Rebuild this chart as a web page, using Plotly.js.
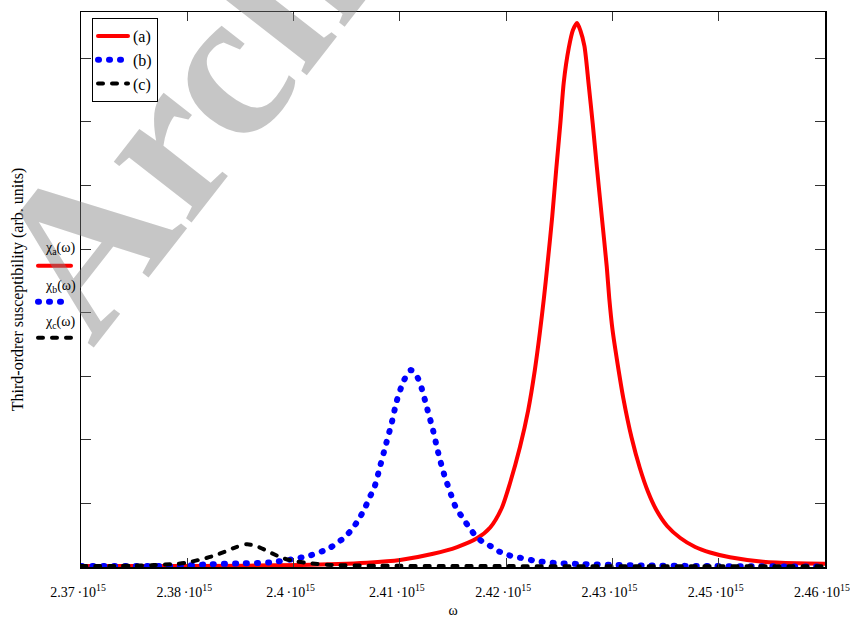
<!DOCTYPE html>
<html>
<head>
<meta charset="utf-8">
<script src="https://cdn.plot.ly/plotly-3.0.1.min.js"></script>
<style>
  html, body { margin: 0; padding: 0; background: #fff; }
  #chart { width: 850px; height: 621px; }
  .js-line { stroke-linecap: round; }
  .shapelayer path { stroke-linecap: round; }
</style>
</head>
<body>
<div id="chart"></div>
<script>
// ω values are in units of 10^15
const omegaA = [2.3700, 2.3844, 2.3965, 2.4046, 2.4086, 2.4126, 2.4155, 2.4179, 2.4195, 2.4209,
  2.4219, 2.4231, 2.4241, 2.4249, 2.4255, 2.4260, 2.4264, 2.4270, 2.4275, 2.4280,
  2.4284, 2.4290, 2.4295, 2.4300, 2.4304, 2.4309, 2.4314, 2.4319, 2.4324, 2.4330,
  2.4336, 2.4339, 2.4343, 2.4349, 2.4356, 2.4366, 2.4376, 2.4386, 2.4396, 2.4409,
  2.4425, 2.4443, 2.4461, 2.4485, 2.4525, 2.4566, 2.4600];
const chiA = [0.016, 0.016, 0.031, 0.068, 0.11, 0.208, 0.314, 0.451, 0.621, 0.928,
  1.321, 1.887, 2.469, 3.097, 3.679, 4.230, 4.722, 5.508, 6.274, 6.997,
  7.626, 8.160, 8.443, 8.558, 8.443, 8.192, 7.605, 6.976, 6.294, 5.508,
  4.722, 4.230, 3.726, 3.203, 2.657, 2.036, 1.557, 1.179, 0.896, 0.645,
  0.456, 0.314, 0.228, 0.153, 0.083, 0.058, 0.052];

const omegaB = [2.3700, 2.3765, 2.3817, 2.3854, 2.3893, 2.3929, 2.3955, 2.3978, 2.4000, 2.4018,
  2.4027, 2.4036, 2.4043, 2.4049, 2.4055, 2.4062, 2.4069, 2.4076, 2.4082, 2.4091,
  2.4099, 2.4107, 2.4112, 2.4119, 2.4126, 2.4132, 2.4139, 2.4148, 2.4153, 2.4161,
  2.4170, 2.4178, 2.4188, 2.4197, 2.4207, 2.4218, 2.4230, 2.4253, 2.4279, 2.4304,
  2.4340, 2.4378, 2.4449, 2.4521, 2.4600];
const chiB = [0.016, 0.016, 0.016, 0.042, 0.057, 0.074, 0.121, 0.186, 0.294, 0.459,
  0.582, 0.75, 0.917, 1.09, 1.258, 1.593, 1.934, 2.275, 2.615, 2.945,
  3.097, 2.983, 2.814, 2.48, 2.143, 1.803, 1.467, 1.124, 0.951, 0.786,
  0.616, 0.481, 0.377, 0.318, 0.236, 0.184, 0.149, 0.09, 0.058, 0.047,
  0.035, 0.024, 0.016, 0.011, 0.008];

const omegaC = [2.3700, 2.3760, 2.3788, 2.3814, 2.3828, 2.3842, 2.3858, 2.3874, 2.3887, 2.3901,
  2.3915, 2.3931, 2.3945, 2.3961, 2.3977, 2.4005, 2.4062, 2.4147, 2.4268, 2.4449, 2.4600];
const chiC = [0.016, 0.02, 0.031, 0.047, 0.068, 0.11, 0.165, 0.24, 0.31, 0.357,
  0.314, 0.215, 0.137, 0.086, 0.058, 0.031, 0.02, 0.016, 0.013, 0.011, 0.011];

const seriesNames = ['(a)', '(b)', '(c)'];
const sideLabels = ['χ<sub>a</sub>(ω)', 'χ<sub>b</sub>(ω)', 'χ<sub>c</sub>(ω)'];

const xTickVals = [2.37, 2.382857, 2.395714, 2.408571, 2.421429, 2.434286, 2.447143, 2.459999];
const xTickText = ['2.37\u2009·10<sup>15</sup>', '2.38\u2009·10<sup>15</sup>', '2.4\u2009·10<sup>15</sup>', '2.41\u2009·10<sup>15</sup>',
  '2.42\u2009·10<sup>15</sup>', '2.43\u2009·10<sup>15</sup>', '2.45\u2009·10<sup>15</sup>', '2.46\u2009·10<sup>15</sup>'];
const yTickVals = [1, 2, 3, 4, 5, 6, 7, 8];

const serif = 'Liberation Serif, Times New Roman, serif';
const red = '#ff0000', blue = '#0000ff', black = '#000000';

const traces = [
  { x: omegaA, y: chiA, name: seriesNames[0], mode: 'lines',
    line: { color: red, width: 4, shape: 'spline', smoothing: 0.7 } },
  { x: omegaB, y: chiB, name: seriesNames[1], mode: 'lines',
    line: { color: blue, width: 6, shape: 'spline', smoothing: 0.8, dash: '1px,10px' } },
  { x: omegaC, y: chiC, name: seriesNames[2], mode: 'lines',
    line: { color: black, width: 4, shape: 'spline', smoothing: 0.8, dash: '5px,9px' } }
];

const layout = {
  width: 850, height: 621,
  margin: { l: 81, r: 25, t: 12, b: 54 },
  paper_bgcolor: '#ffffff', plot_bgcolor: '#ffffff',
  font: { family: serif, size: 14, color: '#000' },
  showlegend: true,
  legend: {
    x: 0.0148, y: 0.989, xanchor: 'left', yanchor: 'top',
    bgcolor: '#ffffff', bordercolor: '#000', borderwidth: 1,
    font: { family: serif, size: 16, color: '#000' }
  },
  xaxis: {
    range: [2.37, 2.46],
    tickmode: 'array', tickvals: xTickVals, ticktext: xTickText,
    ticks: 'inside', ticklen: 9, tickcolor: '#333', tickwidth: 1,
    showline: true, linecolor: '#000', linewidth: 1.5, mirror: 'ticks',
    showgrid: false, zeroline: false,
    tickfont: { family: serif, size: 14, color: '#000' },
    ticklabelstandoff: 12, ticklabelshift: -3, ticklabeloverflow: 'allow',
    title: { text: 'ω', font: { family: serif, size: 14, color: '#000' }, standoff: 6 }
  },
  yaxis: {
    range: [0, 8.73],
    tickmode: 'array', tickvals: yTickVals, showticklabels: false,
    ticks: 'inside', ticklen: 10, tickcolor: '#333', tickwidth: 1,
    showline: true, linecolor: '#000', linewidth: 1.5, mirror: 'ticks',
    showgrid: false, zeroline: false,
    automargin: true,
    title: { text: 'Third-ordrer susceptibility (arb. units)',
      font: { family: serif, size: 16, color: '#000' }, standoff: 52 }
  },
  annotations: [
    { text: '<b>Arch</b>', xref: 'paper', yref: 'paper', x: 0.1304, y: 0.80,
      xanchor: 'center', yanchor: 'middle',
      showarrow: false, textangle: -52,
      font: { family: serif, size: 215, color: 'rgba(128,128,128,0.45)' } },
    { text: sideLabels[0], xref: 'paper', yref: 'paper', x: -0.0282, y: 0.573, showarrow: false,
      xanchor: 'center', yanchor: 'middle', font: { family: serif, size: 14, color: '#000' } },
    { text: sideLabels[1], xref: 'paper', yref: 'paper', x: -0.0282, y: 0.506, showarrow: false,
      xanchor: 'center', yanchor: 'middle', font: { family: serif, size: 14, color: '#000' } },
    { text: sideLabels[2], xref: 'paper', yref: 'paper', x: -0.0282, y: 0.441, showarrow: false,
      xanchor: 'center', yanchor: 'middle', font: { family: serif, size: 14, color: '#000' } }
  ],
  shapes: [
    { type: 'line', xref: 'paper', yref: 'paper', x0: -0.0578, x1: -0.0134, y0: 0.5429, y1: 0.5429,
      line: { color: red, width: 4 } },
    { type: 'line', xref: 'paper', yref: 'paper', x0: -0.0578, x1: -0.0215, y0: 0.478, y1: 0.478,
      line: { color: blue, width: 6, dash: '1px,10px' } },
    { type: 'line', xref: 'paper', yref: 'paper', x0: -0.0578, x1: -0.0134, y0: 0.413, y1: 0.413,
      line: { color: black, width: 4, dash: '5px,9px' } }
  ]
};

Plotly.newPlot('chart', traces, layout, { displayModeBar: false, staticPlot: true });
</script>
</body>
</html>
